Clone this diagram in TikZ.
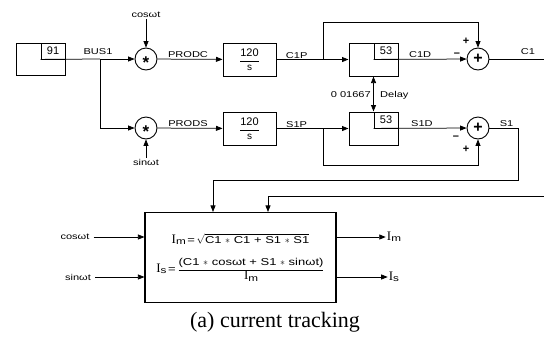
\documentclass[tikz,border=0pt]{standalone}
\usepackage{fontspec}
\setmainfont{Liberation Serif}
\setsansfont{Liberation Sans}
\newfontfamily\widesans[FakeStretch=1.3]{Liberation Sans}
\usetikzlibrary{positioning, arrows.meta, shapes}

\newcommand{\Icur}[1]{{\rmfamily\fontsize{13}{14}\selectfont I}{\widesans\fontsize{9}{10}\selectfont\raisebox{-0.3ex}{#1}}}

\tikzset{
  blk/.style={draw, line width=1pt, minimum width=53pt, minimum height=33pt, inner sep=0pt},
  tag/.style={draw, line width=0.9pt, minimum width=24pt, minimum height=16pt, inner sep=0pt, font=\sffamily\fontsize{11}{11}\selectfont},
  junc/.style={draw, circle, line width=0.9pt, minimum size=22pt, inner sep=0pt},
  lbl/.style={font=\widesans\fontsize{8.5}{9}\selectfont, inner sep=1pt},
  sig/.style={line width=0.75pt, -{Triangle[length=6.5pt,width=5pt]}},
  wire/.style={line width=0.75pt},
}

\begin{document}
\begin{tikzpicture}[x=1pt, y=-1pt]
    \useasboundingbox (0,0) rectangle (544,341);

    % Product stage
    \node[blk, minimum width=49pt, minimum height=32pt] (src) at (40.5,59) {};
    \node[tag, anchor=north east] (srctag) at (src.north east) {91};
    \node[junc] (mulc) at (146,59) {\sffamily\bfseries\fontsize{17}{17}\selectfont\smash{\raisebox{-0.56em}{*}}};
    \node[junc] (muls) at (146,128) {\sffamily\bfseries\fontsize{17}{17}\selectfont\smash{\raisebox{-0.56em}{*}}};
    \node[lbl] (cosin) at (146,15) {cosωt};
    \node[lbl] (sinin) at (146,162) {sinωt};
    \node[blk] (intc) at (249.5,59.5) {\sffamily$\displaystyle\frac{\hbox{\fontsize{11}{11}\selectfont 120}}{\hbox{\fontsize{10}{10}\selectfont s}}$};
    \node[blk] (ints) at (249.5,128.5) {\sffamily$\displaystyle\frac{\hbox{\fontsize{11}{11}\selectfont 120}}{\hbox{\fontsize{10}{10}\selectfont s}}$};

    % Delay stage
    \node[blk, minimum width=49pt] (dlyc) at (373.5,59.5) {};
    \node[tag, anchor=north east] (dlyctag) at (dlyc.north east) {53};
    \node[blk, minimum width=49pt] (dlys) at (373.5,128.5) {};
    \node[tag, anchor=north east] (dlystag) at (dlys.north east) {53};
    \node[junc] (sumc) at (478,59) {\sffamily\bfseries\fontsize{16}{16}\selectfont +};
    \node[junc] (sums) at (478,128) {\sffamily\bfseries\fontsize{16}{16}\selectfont +};

    \coordinate (bus) at (100,59);
    \coordinate (c1p) at (323,59);
    \coordinate (s1p) at (323,128);
    \coordinate (c1out) at (544,59);
    \coordinate (s1turn) at (518,128);
    \coordinate (c1ret) at (544,196);

    % Forward edges
    \draw[wire] (srctag.south west) -- (bus);
    \node[lbl] at (98,52) {BUS1};
    \draw[sig] (bus) -- (mulc);
    \draw[sig] (bus) |- (muls);
    \draw[sig] (cosin) -- (mulc);
    \draw[sig] (sinin) -- (muls);
    \draw[sig] (mulc) -- node[lbl, above, pos=0.47] {PRODC} (intc);
    \draw[sig] (muls) -- node[lbl, above, pos=0.47] {PRODS} (ints);
    \draw[sig] (intc) -- node[lbl, above, pos=0.28] {C1P} (dlyc);
    \draw[sig] (ints) -- node[lbl, above, pos=0.28] {S1P} (dlys);
    \draw[sig] (dlyctag.south west) -- node[lbl, above, pos=0.5] {C1D} (sumc);
    \draw[sig] (dlystag.south west) -- node[lbl, above, pos=0.52] {S1D} (sums);
    \draw[sig] (c1p) -- ++(0,-37) -| (sumc);
    \draw[sig] (s1p) -- ++(0,37) -| (sums);
    \draw[wire, {Triangle[length=6.5pt,width=5pt]}-{Triangle[length=6.5pt,width=5pt]}] (dlyc.south) -- (dlys.north);
    \node[lbl, left] at (372,95) {0 01667};
    \node[lbl, right] at (379,95) {Delay};

    % Signs
    \node[font=\sffamily\bfseries\fontsize{11}{11}\selectfont] at (457,55) {\textendash};
    \node[font=\sffamily\bfseries\fontsize{11}{11}\selectfont] at (466,41) {+};
    \node[font=\sffamily\bfseries\fontsize{11}{11}\selectfont] at (456,138) {\textendash};
    \node[font=\sffamily\bfseries\fontsize{11}{11}\selectfont] at (466,149) {+};

    % Outputs
    \draw[wire] (sumc) -- (c1out);
    \node[lbl] at (528,52) {C1};
    \draw[wire] (sums) -- node[lbl, above, pos=0.6] {S1} (s1turn);

    % Current calculation
    \node[draw, line width=1.1pt, minimum width=191pt, minimum height=90pt, align=center, font=\widesans\fontsize{10}{11}\selectfont] (calc) at (240.5,257.5)
      {\Icur{m}\,=\,$\sqrt{\hbox{C1 $\ast$ C1 + S1 $\ast$ S1}}$\\[13pt]
       \Icur{s}\,=\,$\displaystyle\frac{\hbox{(C1 $\ast$ cosωt + S1 $\ast$ sinωt)}}{\hbox{\Icur{m}}}$};
    \draw[sig] (s1turn) -- (518,180) -| ([xshift=-27.5pt]calc.north);
    \draw[sig] (c1ret) -| ([xshift=27.5pt]calc.north);

    \node[lbl] (cosx) at (75,237) {cosωt};
    \node[lbl] (sinx) at (78,277) {sinωt};
    \draw[sig] (cosx.east) ++(3,0) -- (calc.west |- cosx);
    \draw[sig] (sinx.east) ++(3,0) -- (calc.west |- sinx);
    \node[inner sep=1pt] (imout) at (394,237) {\Icur{m}};
    \node[inner sep=1pt] (isout) at (394,277) {\Icur{s}};
    \draw[sig] (calc.east |- imout) -- (imout);
    \draw[sig] (calc.east |- isout) -- (isout);

    \node (cap) at (275,322) {\fontsize{22}{25}\selectfont (a) current tracking};
\end{tikzpicture}
\end{document}
